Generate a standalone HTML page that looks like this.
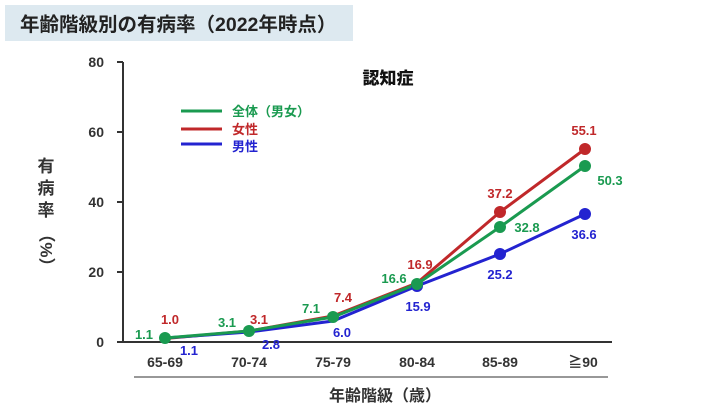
<!DOCTYPE html><html><head><meta charset="utf-8"><style>
body{margin:0;width:714px;height:411px;background:#fff;overflow:hidden;font-family:"Liberation Sans","Noto Sans CJK JP",sans-serif}
</style></head><body>
<svg width="714" height="411" xmlns="http://www.w3.org/2000/svg" font-family="Liberation Sans, Noto Sans CJK JP, sans-serif">
<rect x="5" y="5" width="348" height="36" fill="#dde9f0"/>
<text x="20" y="31" font-size="19.5" font-weight="bold" fill="#222">年齢階級別の有病率（2022年時点）</text>
<g stroke="#333" stroke-width="2" fill="none">
<line x1="123" y1="62" x2="123" y2="342"/>
<line x1="117" y1="342" x2="612" y2="342"/>
<line x1="117" y1="62" x2="123" y2="62"/><line x1="117" y1="132" x2="123" y2="132"/><line x1="117" y1="202" x2="123" y2="202"/><line x1="117" y1="272" x2="123" y2="272"/>
</g>
<line x1="134" y1="377" x2="608" y2="377" stroke="#777" stroke-width="1.5"/>
<g font-size="14" font-weight="bold" fill="#333" text-anchor="end">
<text x="104" y="67">80</text><text x="104" y="137">60</text><text x="104" y="207">40</text><text x="104" y="277">20</text><text x="104" y="347">0</text></g>
<g font-size="14" font-weight="bold" fill="#333" text-anchor="middle">
<text x="165" y="367">65-69</text><text x="249" y="367">70-74</text><text x="333" y="367">75-79</text><text x="417" y="367">80-84</text><text x="500" y="367">85-89</text><text x="583" y="367">≧90</text>
<text x="385" y="401" font-size="16">年齢階級（歳）</text>
<text x="388" y="84" font-size="17" font-weight="900" fill="#111">認知症</text>
</g>
<g font-size="17" font-weight="bold" fill="#333" text-anchor="middle">
<text x="46" y="172">有</text><text x="46" y="194">病</text><text x="46" y="216">率</text>
<text x="46" y="250" dominant-baseline="central" transform="rotate(90 46 250)">（%）</text>
</g>
<g stroke-width="3">
<line x1="181" y1="111" x2="222" y2="111" stroke="#1a9a50"/><line x1="181" y1="129" x2="222" y2="129" stroke="#c0282a"/><line x1="181" y1="144" x2="222" y2="144" stroke="#2323d0"/></g>
<g font-size="13" font-weight="bold"><text x="232" y="116" fill="#1a9a50">全体（男女）</text><text x="232" y="134" fill="#c0282a">女性</text><text x="232" y="151" fill="#2323d0">男性</text></g>
<polyline fill="none" stroke="#c0282a" stroke-width="3" points="165,338.5 249,331 333,316 417,283 500,212 585,149"/>
<polyline fill="none" stroke="#2323d0" stroke-width="3" points="165,338 249,332 333,321 417,286 500,254 585,214"/>
<polyline fill="none" stroke="#1a9a50" stroke-width="3" points="165,338 249,331 333,317 417,284 500,227 585,166"/>
<g fill="#c0282a"><circle cx="500" cy="212" r="6"/><circle cx="585" cy="149" r="6"/></g>
<g fill="#2323d0"><circle cx="417" cy="286" r="6"/><circle cx="500" cy="254" r="6"/><circle cx="585" cy="214" r="6"/></g>
<g fill="#1a9a50"><circle cx="165" cy="338" r="6"/><circle cx="249" cy="331" r="6"/><circle cx="333" cy="317" r="6"/><circle cx="417" cy="284" r="6"/><circle cx="500" cy="227" r="6"/><circle cx="585" cy="166" r="6"/></g>
<g font-size="13" font-weight="bold" text-anchor="middle">
<g fill="#1a9a50"><text x="144" y="339">1.1</text><text x="227" y="327">3.1</text><text x="311" y="313">7.1</text><text x="394" y="283">16.6</text><text x="527" y="232">32.8</text><text x="610" y="185">50.3</text></g>
<g fill="#c0282a"><text x="170" y="324">1.0</text><text x="259" y="324">3.1</text><text x="343" y="302">7.4</text><text x="420" y="269">16.9</text><text x="500" y="198">37.2</text><text x="584" y="135">55.1</text></g>
<g fill="#2323d0"><text x="189" y="355">1.1</text><text x="271" y="349">2.8</text><text x="342" y="337">6.0</text><text x="418" y="311">15.9</text><text x="500" y="279">25.2</text><text x="584" y="239">36.6</text></g>
</g>
</svg>
</body></html>
